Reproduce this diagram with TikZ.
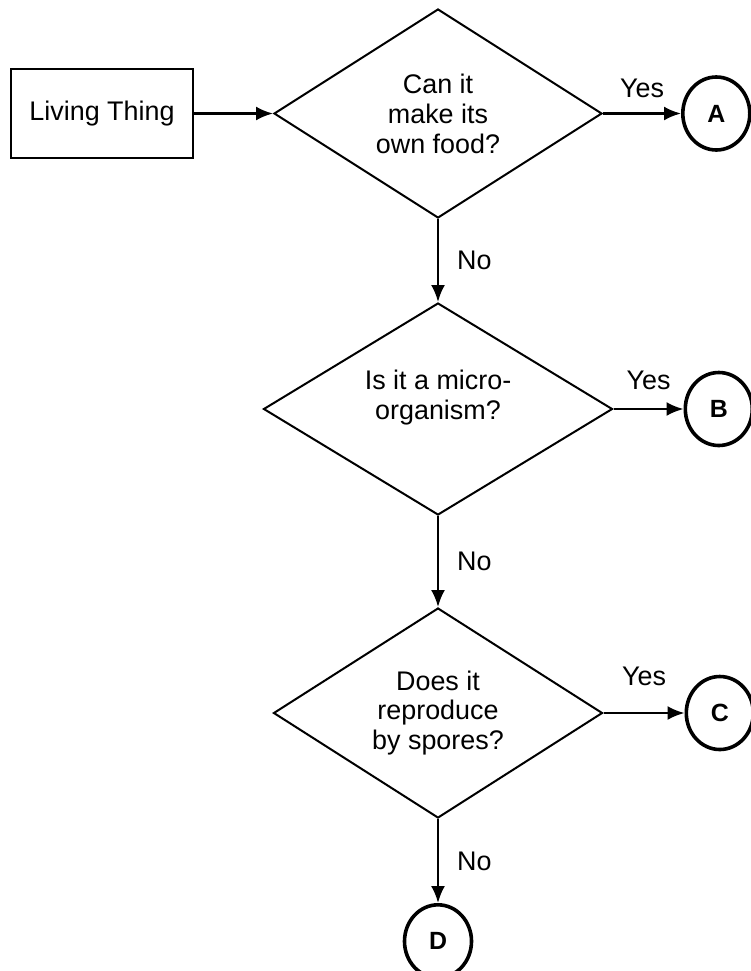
\documentclass[tikz,border=0pt]{standalone}
\usepackage{fontspec}
\setmainfont{Liberation Sans}
\usetikzlibrary{shapes.geometric,positioning,arrows.meta}

\begin{document}
\begin{tikzpicture}[x=1bp,y=-1bp,
		font=\fontsize{27}{30}\selectfont,
		box/.style={draw,line width=2bp,minimum width=182bp,minimum height=89bp,inner sep=0pt},
		decision/.style={draw,diamond,shape aspect=1.6,line width=2bp,inner sep=0pt,align=center},
		stop/.style={draw,ellipse,line width=3.6bp,minimum width=67bp,minimum height=73bp,inner sep=0pt,font=\fontsize{25}{25}\selectfont\bfseries},
		flow/.style={-{Latex[length=17bp,width=14bp]},line width=2.4bp},
		lbl/.style={inner sep=2bp}]
		\useasboundingbox (0,0) rectangle (751,971);
		\node[box] (L) at (102,113.5) {Living Thing};
		\node[decision,minimum width=328bp,minimum height=209bp,right=79bp of L] (Q1) {Can it\\make its\\own food?};
		\node[decision,minimum width=349bp,minimum height=212bp,text depth=28bp,below=83bp of Q1] (Q2) {Is it a micro-\\organism?};
		\node[decision,minimum width=329bp,minimum height=210bp,below=91bp of Q2] (Q3) {Does it\\reproduce\\by spores?};
		\node[stop,right=78bp of Q1] (A) {A};
		\node[stop,right=70bp of Q2] (B) {B};
		\node[stop,right=81bp of Q3] (C) {C};
		\node[stop,below=84bp of Q3] (D) {D};
		\draw[flow] (L.east) -- (Q1.west);
		\draw[flow] (Q1.east) -- (A.west) node[lbl,midway,above=13bp]{Yes};
		\draw[flow] (Q2.east) -- (B.west) node[lbl,midway,above=16bp]{Yes};
		\draw[flow] (Q3.east) -- (C.west) node[lbl,midway,above=24bp]{Yes};
		\draw[flow] (Q1.south) -- (Q2.north) node[lbl,midway,right=16bp]{No};
		\draw[flow] (Q2.south) -- (Q3.north) node[lbl,midway,right=16bp]{No};
		\draw[flow] (Q3.south) -- (D.north) node[lbl,midway,right=16bp]{No};
	\end{tikzpicture}
\end{document}
